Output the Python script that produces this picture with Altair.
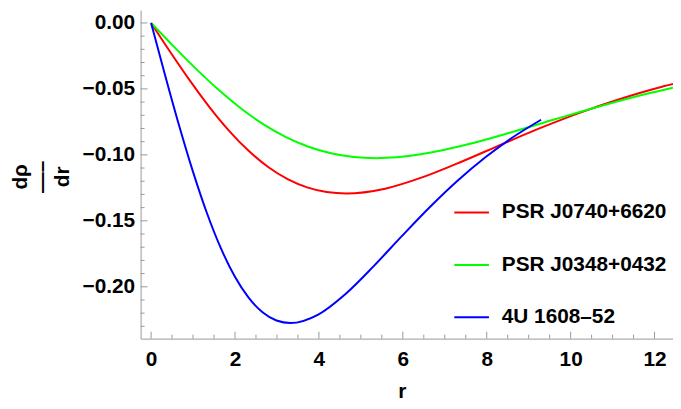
import altair as alt
import pandas as pd

# ---- data ----
series_names = ["PSR J0740+6620", "PSR J0348+0432", "4U 1608–52"]
series_colors = ["#ff0000", "#00ff00", "#0000ff"]

r_red = [0, 0.465, 0.93, 1.395, 1.86, 2.325, 2.79, 3.255, 3.72, 4.185, 4.65, 5.58, 6.51, 7.44, 8.37, 9.30, 10.23, 11.16, 12.09, 12.44]
d_red = [0, -0.02239, -0.04396, -0.06396, -0.08177, -0.09692, -0.10916, -0.11838, -0.12466, -0.12820, -0.12930,
         -0.12562, -0.11654, -0.10465, -0.09187, -0.07941, -0.06799, -0.05787, -0.04914, -0.04634]

r_green = [0, 0.536, 1.072, 1.608, 2.144, 2.68, 3.216, 3.752, 4.288, 4.824, 5.36, 6.432, 7.504, 8.576, 9.648, 10.72, 11.792, 12.44]
d_green = [0, -0.01775, -0.03484, -0.05070, -0.06482, -0.07684, -0.08653, -0.09384, -0.09882, -0.10163, -0.10250,
           -0.09958, -0.09239, -0.08296, -0.07282, -0.06295, -0.05389, -0.04905]

r_blue = [0, 0.332, 0.664, 0.996, 1.328, 1.66, 1.992, 2.324, 2.656, 2.988, 3.32, 3.984, 4.648, 5.312, 5.976, 6.64, 7.304, 7.968, 8.632, 9.296]
d_blue = [0, -0.03939, -0.07734, -0.11253, -0.14387, -0.17054, -0.19206, -0.20829, -0.21933, -0.22556, -0.22750,
          -0.22103, -0.20505, -0.18413, -0.16164, -0.13973, -0.11962, -0.10183, -0.08646, -0.07339]

x_major = [0, 2, 4, 6, 8, 10, 12]
x_minor = [0.5, 1, 1.5, 2.5, 3, 3.5, 4.5, 5, 5.5, 6.5, 7, 7.5, 8.5, 9, 9.5, 10.5, 11, 11.5]
y_major = [-0.20, -0.15, -0.10, -0.05, 0.0]
y_minor = [-0.23, -0.22, -0.21, -0.19, -0.18, -0.17, -0.16, -0.14, -0.13, -0.12, -0.11,
           -0.09, -0.08, -0.07, -0.06, -0.04, -0.03, -0.02, -0.01]

x_domain = [-0.25, 12.44]
y_domain = [-0.2393, 0.00975]

W, H = 538, 332
FONT = "Liberation Sans"
GRAY = "#999999"

rows = []
for name, rs, ds in zip(series_names, [r_red, r_green, r_blue], [d_red, d_green, d_blue]):
    for r, d in zip(rs, ds):
        rows.append({"r": r, "d": d, "series": name})
df = pd.DataFrame(rows)

xscale = alt.Scale(domain=x_domain, nice=False, zero=False)
yscale = alt.Scale(domain=y_domain, nice=False, zero=False)

x_axis = alt.Axis(values=x_major, format="d", title="r", ticks=False, grid=False, labelPadding=10,
                  titleX=264, titleY=59, titleBaseline="alphabetic", titleAlign="center")
y_axis = alt.Axis(values=y_major, format=".2f", title=["dρ", "—–", "dr"], ticks=False, grid=False,
                  labelPadding=6, titleAngle=-90, titleX=-115, titleY=H / 2 + 2,
                  titleBaseline="alphabetic", titleAlign="center", titleLineHeight=21)

lines = alt.Chart(df).mark_line(strokeWidth=2, interpolate="monotone", clip=True).encode(
    x=alt.X("r:Q", scale=xscale, axis=x_axis),
    y=alt.Y("d:Q", scale=yscale, axis=y_axis),
    color=alt.Color("series:N", scale=alt.Scale(domain=series_names, range=series_colors),
                    legend=alt.Legend(title=None, orient="none", legendX=316, legendY=186,
                                      symbolType="stroke", symbolSize=1225, symbolStrokeWidth=2,
                                      labelFontSize=21, labelFontWeight="bold", labelFont=FONT,
                                      labelColor="black", rowPadding=24, labelOffset=12,
                                      padding=0, labelLimit=400)),
    order=alt.Order("r:Q"),
)

xmaj = alt.Chart(pd.DataFrame({"r": x_major})).mark_rule(color=GRAY, strokeWidth=1).encode(
    x=alt.X("r:Q", scale=xscale, axis=x_axis), y=alt.value(H), y2=alt.value(H - 7))
xmin = alt.Chart(pd.DataFrame({"r": x_minor})).mark_rule(color=GRAY, strokeWidth=1).encode(
    x=alt.X("r:Q", scale=xscale, axis=x_axis), y=alt.value(H), y2=alt.value(H - 4))
ymaj = alt.Chart(pd.DataFrame({"d": y_major})).mark_rule(color=GRAY, strokeWidth=1).encode(
    y=alt.Y("d:Q", scale=yscale, axis=y_axis), x=alt.value(0), x2=alt.value(7))
ymin = alt.Chart(pd.DataFrame({"d": y_minor})).mark_rule(color=GRAY, strokeWidth=1).encode(
    y=alt.Y("d:Q", scale=yscale, axis=y_axis), x=alt.value(0), x2=alt.value(4))

chart = alt.layer(lines, xmin, xmaj, ymin, ymaj).properties(
    width=W, height=H,
    autosize=alt.AutoSizeParams(type="none"),
    padding={"left": 134, "top": 0, "right": 0, "bottom": 68},
).configure_view(stroke=None).configure_axis(
    labelFont=FONT, labelFontSize=21, labelFontWeight="bold", labelColor="black",
    titleFont=FONT, titleFontSize=21, titleFontWeight="bold", titleColor="black",
    domainColor=GRAY, domainWidth=1,
)

chart.save("out.html", embed_options={"renderer": "svg", "actions": False})
